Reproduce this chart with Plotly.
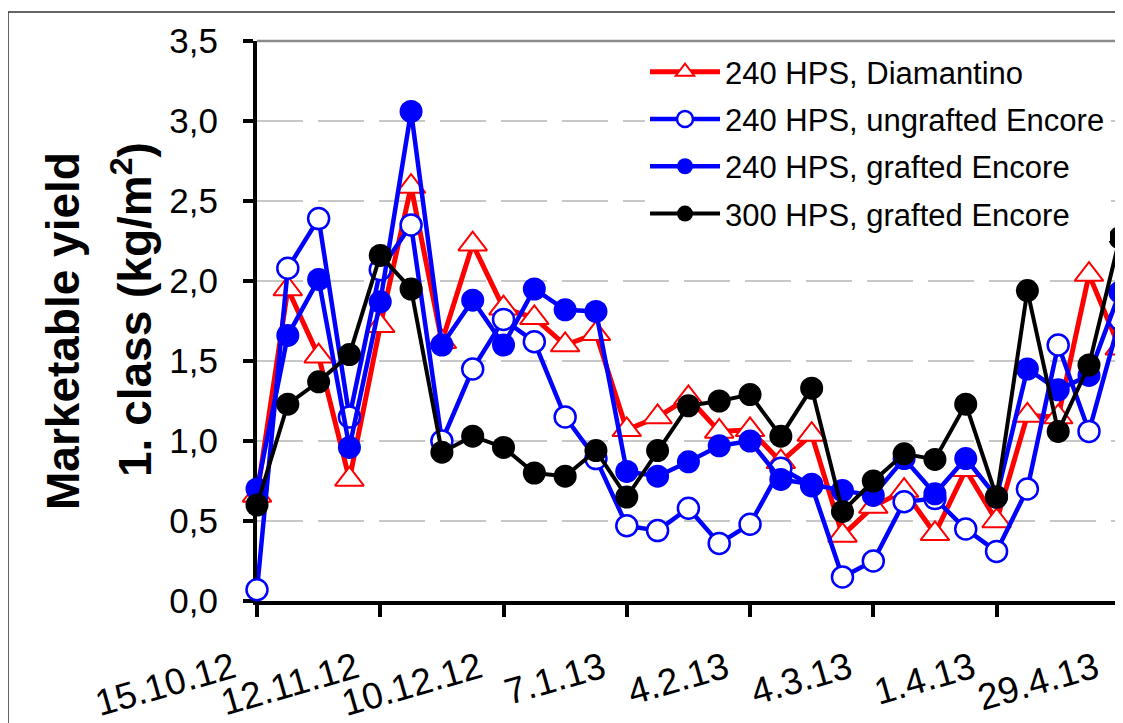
import plotly.graph_objects as go

weeks = ["2012-10-15", "2012-10-22", "2012-10-29", "2012-11-05", "2012-11-12", "2012-11-19",
         "2012-11-26", "2012-12-03", "2012-12-10", "2012-12-17", "2012-12-24", "2012-12-31",
         "2013-01-07", "2013-01-14", "2013-01-21", "2013-01-28", "2013-02-04", "2013-02-11",
         "2013-02-18", "2013-02-25", "2013-03-04", "2013-03-11", "2013-03-18", "2013-03-25",
         "2013-04-01", "2013-04-08", "2013-04-15", "2013-04-22", "2013-04-29"]

diamantino = [0.66, 1.95, 1.53, 0.76, 1.72, 2.59, 1.62, 2.23, 1.83, 1.77, 1.60, 1.67, 1.07, 1.15,
              1.27, 1.06, 1.07, 0.87, 1.04, 0.41, 0.59, 0.69, 0.42, 0.82, 0.50, 1.16, 1.15, 2.04, 1.58]
ungrafted = [0.07, 2.08, 2.39, 1.15, 2.07, 2.35, 1.00, 1.45, 1.76, 1.62, 1.15, 0.89, 0.47, 0.44,
             0.58, 0.36, 0.48, 0.83, 0.72, 0.15, 0.25, 0.62, 0.64, 0.45, 0.31, 0.70, 1.60, 1.06, 1.76]
grafted240 = [0.70, 1.66, 2.01, 0.96, 1.87, 3.06, 1.60, 1.88, 1.60, 1.95, 1.82, 1.81, 0.81, 0.78,
              0.87, 0.97, 1.00, 0.76, 0.73, 0.69, 0.66, 0.89, 0.67, 0.89, 0.65, 1.45, 1.32, 1.41, 1.93]
grafted300 = [0.60, 1.23, 1.37, 1.54, 2.16, 1.95, 0.93, 1.03, 0.96, 0.80, 0.78, 0.94, 0.65, 0.94,
              1.22, 1.25, 1.29, 1.03, 1.33, 0.56, 0.75, 0.92, 0.885, 1.23, 0.65, 1.94, 1.06, 1.475, 2.27]

tick_dates = ["2012-10-15", "2012-11-12", "2012-12-10", "2013-01-07", "2013-02-04",
              "2013-03-04", "2013-04-01", "2013-04-29"]
tick_labels = ["15.10.12", "12.11.12", "10.12.12", "7.1.13", "4.2.13", "4.3.13", "1.4.13", "29.4.13"]

series_names = ["240 HPS, Diamantino", "240 HPS, ungrafted Encore",
                "240 HPS, grafted Encore", "300 HPS, grafted Encore"]

FONT = "Liberation Sans, Arial, sans-serif"

fig = go.Figure()
fig.add_trace(go.Scatter(
    x=weeks, y=diamantino, name=series_names[0], mode="lines+markers", legendgroup="a",
    line=dict(color="#ff0000", width=5),
    marker=dict(symbol="triangle-up", size=25, color="white", line=dict(color="#ff0000", width=2)),
    cliponaxis=False))
fig.add_trace(go.Scatter(
    x=weeks, y=ungrafted, name=series_names[1], mode="lines+markers", legendgroup="b",
    line=dict(color="#0000ff", width=4.5),
    marker=dict(symbol="circle", size=21, color="white", line=dict(color="#0000ff", width=2.5)),
    cliponaxis=False))
fig.add_trace(go.Scatter(
    x=weeks, y=grafted240, name=series_names[2], mode="lines+markers", legendgroup="c",
    line=dict(color="#0000ff", width=4.5),
    marker=dict(symbol="circle", size=23, color="#0000ff", line=dict(width=0)),
    cliponaxis=False))
fig.add_trace(go.Scatter(
    x=weeks, y=grafted300, name=series_names[3], mode="lines+markers", legendgroup="d",
    line=dict(color="#000000", width=4),
    marker=dict(symbol="circle", size=23, color="#000000", line=dict(width=0)),
    cliponaxis=False))

# The page places the figure 8px from the top-left corner (browser body margin),
# so the figure is 8px smaller and all page positions below are shifted by 8px.
OFF = 8
W, H = 1123 - OFF, 723 - OFF
L = 257 - OFF
R = W - (1120 - OFF)
T = 41 - OFF
B = H - (601 - OFF)
pw = W - L - R
ph = H - T - B

def px2x(px):  # page pixel -> paper x
    return (px - OFF - L) / pw

def py2y(py):  # page pixel -> paper y
    return (H - B - (py - OFF)) / ph

fig.update_layout(
    width=W, height=H,
    margin=dict(l=L, r=R, t=T, b=B, pad=0, autoexpand=False),
    paper_bgcolor="white", plot_bgcolor="white",
    separators=", ",
    font=dict(family=FONT, color="black"),
    showlegend=True,
    legend=dict(
        x=px2x(645), y=py2y(45), xanchor="left", yanchor="top",
        bgcolor="white", borderwidth=0,
        font=dict(size=31, family=FONT, color="black"),
        itemwidth=70, tracegroupgap=4, traceorder="grouped",
    ),
    xaxis=dict(
        type="date",
        range=["2012-10-15", "2013-04-29 01:00"],
        tickmode="array", tickvals=tick_dates, ticktext=tick_labels,
        tickangle=-16,
        tickfont=dict(size=37, family=FONT, color="black"),
        showgrid=False, zeroline=False,
        showline=True, linecolor="black", linewidth=4,
        ticks="outside", ticklen=12, tickwidth=4, tickcolor="black",
        ticklabelstandoff=16, ticklabelshift=-24,
        automargin=False,
        layer="below traces",
    ),
    yaxis=dict(
        range=[0, 3.5], dtick=0.5, tick0=0, tickformat=".1f",
        tickfont=dict(size=35, family=FONT, color="black"),
        showgrid=True, gridcolor="#c8c8c8", gridwidth=1.5, griddash="46px,15px",
        zeroline=False,
        showline=True, linecolor="black", linewidth=4,
        ticks="outside", ticklen=10, tickwidth=4, tickcolor="black",
        ticklabelstandoff=18,
        automargin=False,
        layer="below traces",
    ),
)

fig.add_annotation(
    text="<b>Marketable yield</b>", textangle=-90,
    xref="paper", yref="paper", x=px2x(63), y=py2y(331),
    xanchor="center", yanchor="middle", showarrow=False,
    font=dict(size=46, family=FONT, color="black"))
fig.add_annotation(
    text="<b>1. class (kg/m<sup>2</sup>)</b>", textangle=-90,
    xref="paper", yref="paper", x=px2x(132), y=py2y(310),
    xanchor="center", yanchor="middle", showarrow=False,
    font=dict(size=46, family=FONT, color="black"))

# plot-area frame (top and right), thin gray
fig.add_shape(type="line", xref="paper", yref="paper", x0=0, x1=1, y0=1, y1=1,
              line=dict(color="#8c8c8c", width=2.5), layer="above")
fig.add_shape(type="line", xref="paper", yref="paper", x0=1, x1=1, y0=0, y1=1,
              line=dict(color="#8c8c8c", width=2.5), layer="above")
# outer chart frame
fig.add_shape(type="rect", xref="paper", yref="paper",
              x0=px2x(8), x1=px2x(1118), y0=py2y(740), y1=py2y(12),
              line=dict(color="#333333", width=1.5), fillcolor="rgba(0,0,0,0)", layer="above")

fig.write_html("out.html")
